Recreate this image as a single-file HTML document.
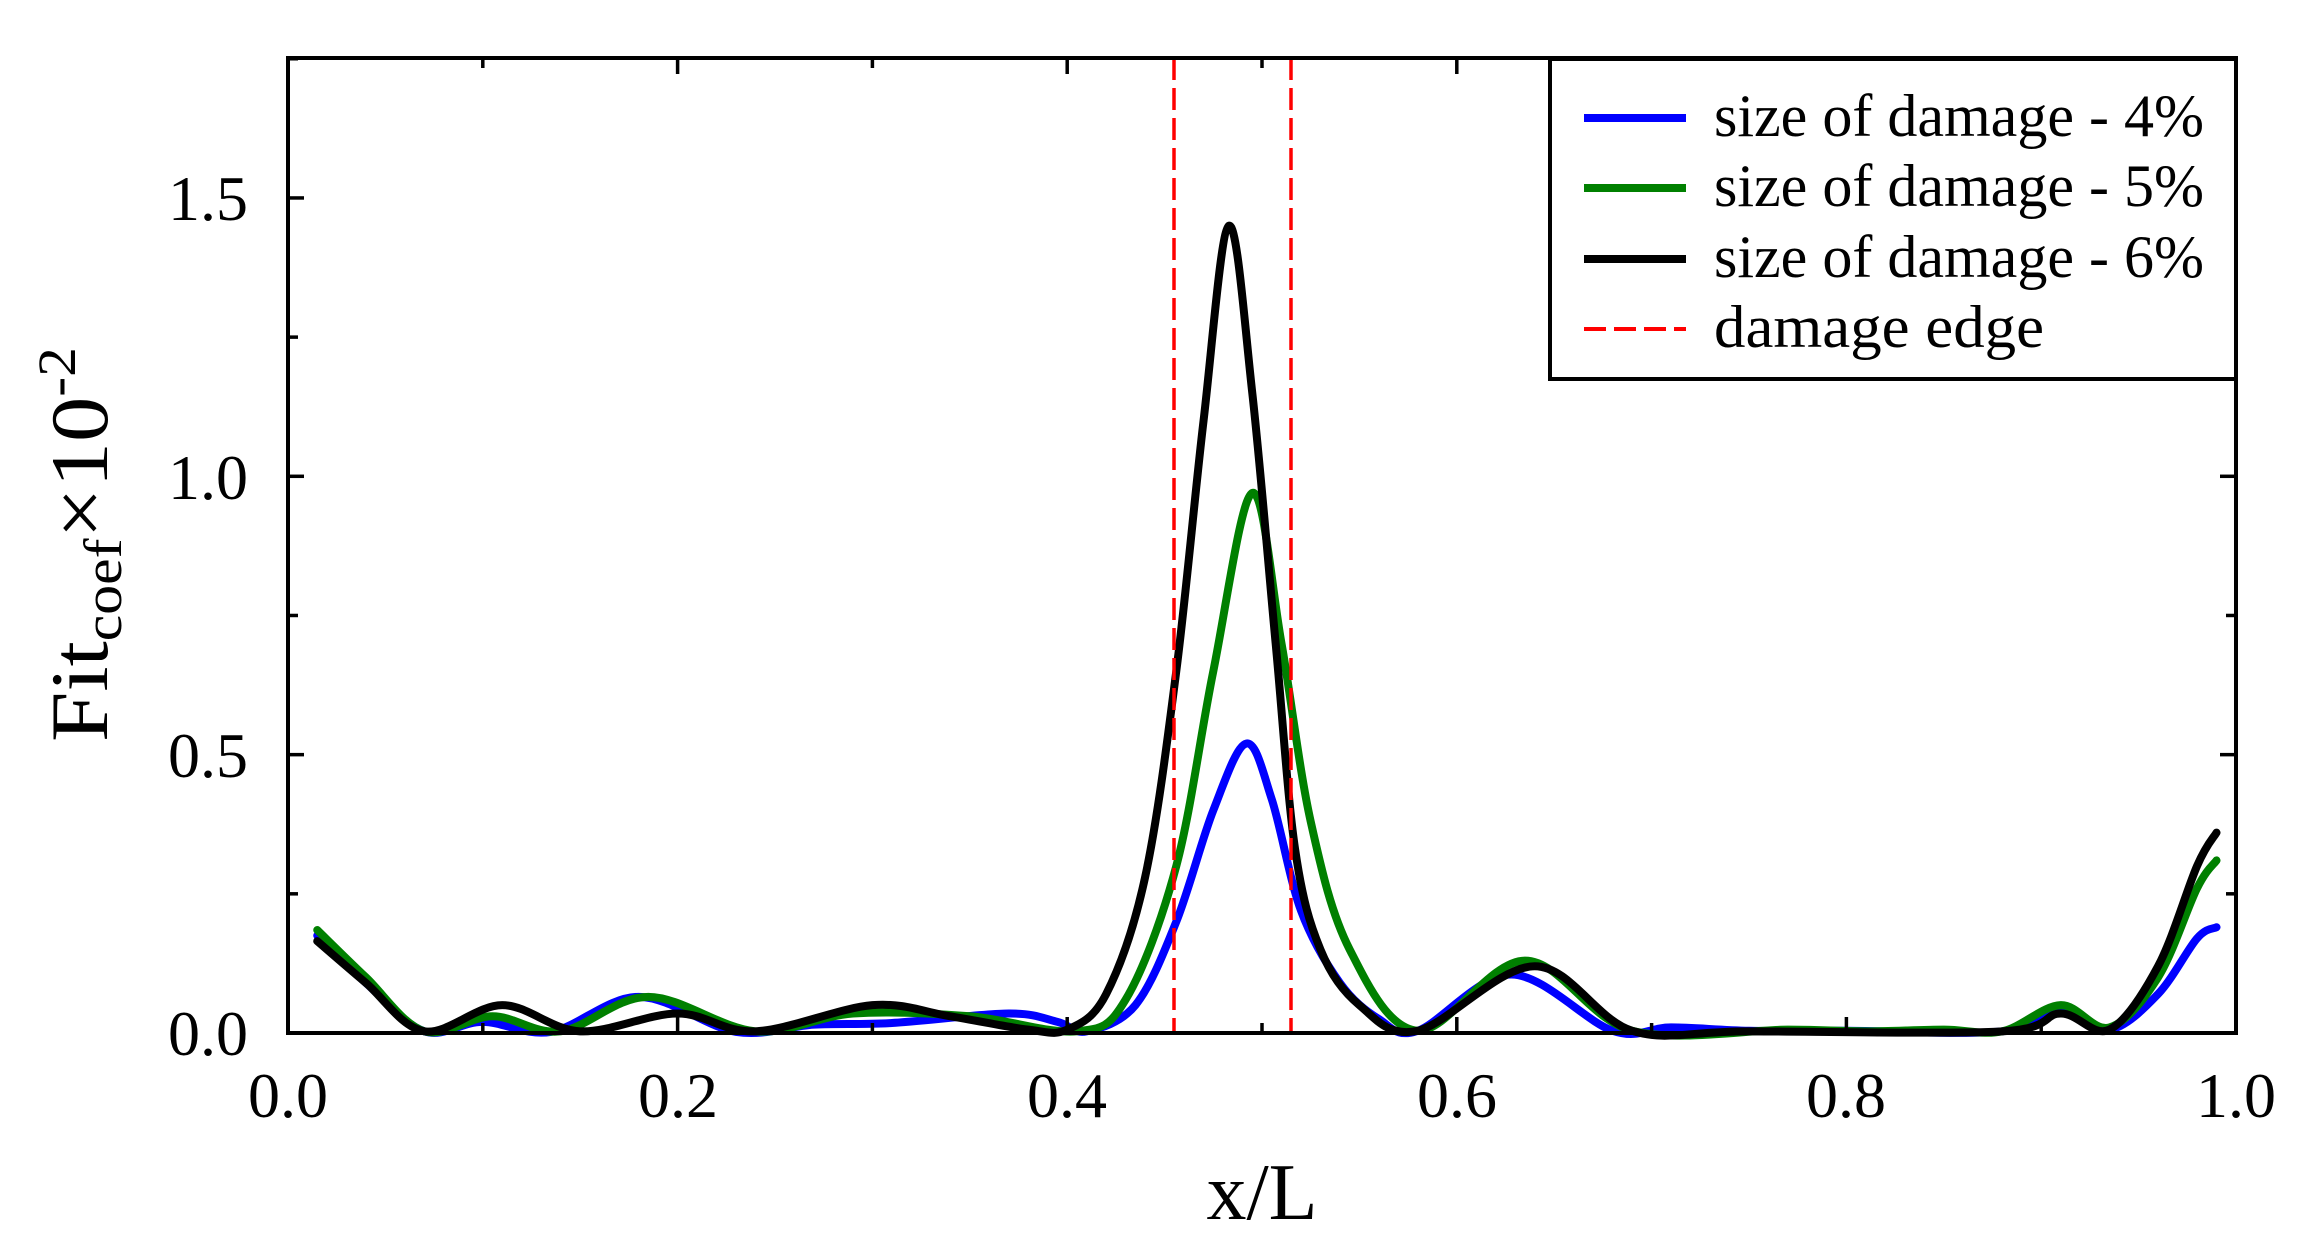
<!DOCTYPE html>
<html><head><meta charset="utf-8"><style>
html,body{margin:0;padding:0;background:#fff}
svg{display:block}
text{font-family:"Liberation Serif",serif;fill:#000}
</style></head><body>
<svg id="s" width="2304" height="1244" viewBox="0 0 2304 1244" xmlns="http://www.w3.org/2000/svg">
<g id="curves" fill="none" stroke-width="8" stroke-linejoin="round" stroke-linecap="round"></g>
<line x1="1174" y1="58" x2="1174" y2="1033" stroke="#f00" stroke-width="3.5" stroke-dasharray="22,8"/>
<line x1="1291" y1="58" x2="1291" y2="1033" stroke="#f00" stroke-width="3.5" stroke-dasharray="22,8"/>
<g id="ticks" stroke="#000" stroke-width="3.5"></g>
<rect x="288" y="58" width="1948" height="975" fill="none" stroke="#000" stroke-width="4"/>
<rect x="1550" y="59" width="686" height="320" fill="#fff" stroke="#000" stroke-width="4"/>
<line x1="1584" y1="118" x2="1686" y2="118" stroke="#00f" stroke-width="8"/>
<line x1="1584" y1="188" x2="1686" y2="188" stroke="#008000" stroke-width="8"/>
<line x1="1584" y1="259" x2="1686" y2="259" stroke="#000" stroke-width="8"/>
<line x1="1584" y1="329" x2="1686" y2="329" stroke="#f00" stroke-width="4" stroke-dasharray="22,8"/>
<g font-size="60">
<text x="1714" y="136" textLength="490" lengthAdjust="spacingAndGlyphs">size of damage - 4%</text>
<text x="1714" y="206" textLength="490" lengthAdjust="spacingAndGlyphs">size of damage - 5%</text>
<text x="1714" y="277" textLength="490" lengthAdjust="spacingAndGlyphs">size of damage - 6%</text>
<text x="1714" y="347" textLength="330" lengthAdjust="spacingAndGlyphs">damage edge</text>
</g>
<g font-size="64" text-anchor="end">
<text x="248" y="1055">0.0</text>
<text x="248" y="777">0.5</text>
<text x="248" y="499">1.0</text>
<text x="248" y="220">1.5</text>
</g>
<g font-size="64" text-anchor="middle">
<text x="288" y="1117">0.0</text>
<text x="678" y="1117">0.2</text>
<text x="1067" y="1117">0.4</text>
<text x="1457" y="1117">0.6</text>
<text x="1846" y="1117">0.8</text>
<text x="2236" y="1117">1.0</text>
</g>
<text x="1262" y="1219" font-size="80" text-anchor="middle">x/L</text>
<text transform="translate(107,742) rotate(-90)" font-size="82" textLength="395" lengthAdjust="spacingAndGlyphs">Fit<tspan font-size="54" dy="14">coef</tspan><tspan dy="-14">×10</tspan><tspan font-size="54" dy="-32">-2</tspan></text>
</svg>
<script>
var X=function(v){return 288+v*1948},Y=function(v){return 1033-v*556.7};
var tk=document.getElementById('ticks'),h='';
for(var i=0;i<=10;i++){var x=X(i/10),L=i%2==0?16:10;h+='<line x1="'+x+'" y1="1033" x2="'+x+'" y2="'+(1033-L)+'"/><line x1="'+x+'" y1="58" x2="'+x+'" y2="'+(58+L)+'"/>';}
for(var j=0;j<=7;j++){var y=Y(j*0.25),L=j%2==0?16:10;h+='<line x1="288" y1="'+y+'" x2="'+(288+L)+'" y2="'+y+'"/><line x1="2236" y1="'+y+'" x2="'+(2236-L)+'" y2="'+y+'"/>';}
tk.innerHTML=h;
function path(p){var d='M'+X(p[0][0])+','+Y(p[0][1]);
for(var i=0;i<p.length-1;i++){var p0=p[Math.max(0,i-1)],p1=p[i],p2=p[i+1],p3=p[Math.min(p.length-1,i+2)];
var c1x=X(p1[0])+(X(p2[0])-X(p0[0]))/6,c1y=Y(p1[1])+(Y(p2[1])-Y(p0[1]))/6,c2x=X(p2[0])-(X(p3[0])-X(p1[0]))/6,c2y=Y(p2[1])-(Y(p3[1])-Y(p1[1]))/6;
d+=' C'+c1x+','+c1y+' '+c2x+','+c2y+' '+X(p2[0])+','+Y(p2[1]);}return d;}
var blue=[[0.015,0.175],[0.04,0.09],[0.07,0.003],[0.1,0.02],[0.135,0.002],[0.18,0.065],[0.23,0.002],[0.27,0.015],[0.31,0.018],[0.37,0.035],[0.395,0.02],[0.41,0.003],[0.435,0.05],[0.456,0.2],[0.475,0.4],[0.492,0.52],[0.505,0.42],[0.52,0.22],[0.54,0.09],[0.56,0.025],[0.58,0.004],[0.628,0.105],[0.68,0.004],[0.71,0.01],[0.75,0.004],[0.8,0.004],[0.88,0.003],[0.91,0.045],[0.935,0.006],[0.96,0.07],[0.98,0.17],[0.99,0.19]];
var green=[[0.015,0.185],[0.04,0.1],[0.07,0.003],[0.105,0.03],[0.14,0.003],[0.185,0.065],[0.24,0.003],[0.29,0.035],[0.35,0.03],[0.405,0.003],[0.43,0.06],[0.456,0.3],[0.475,0.65],[0.495,0.97],[0.51,0.7],[0.525,0.38],[0.545,0.15],[0.58,0.004],[0.635,0.13],[0.69,0.004],[0.77,0.006],[0.81,0.003],[0.85,0.006],[0.88,0.003],[0.91,0.05],[0.935,0.01],[0.96,0.1],[0.98,0.26],[0.99,0.31]];
var black=[[0.015,0.165],[0.04,0.09],[0.07,0.003],[0.11,0.05],[0.15,0.003],[0.2,0.035],[0.24,0.003],[0.3,0.05],[0.34,0.03],[0.38,0.006],[0.40,0.006],[0.42,0.07],[0.44,0.28],[0.456,0.65],[0.47,1.1],[0.483,1.45],[0.495,1.15],[0.507,0.7],[0.517,0.33],[0.53,0.15],[0.55,0.05],[0.58,0.004],[0.64,0.12],[0.69,0.004],[0.75,0.003],[0.88,0.003],[0.91,0.035],[0.935,0.006],[0.96,0.12],[0.98,0.3],[0.99,0.36]];
var g=document.getElementById('curves');
g.innerHTML='<path stroke="#00f" d="'+path(blue)+'"/><path stroke="#008000" d="'+path(green)+'"/><path stroke="#000" d="'+path(black)+'"/>';
</script>
</body></html>
